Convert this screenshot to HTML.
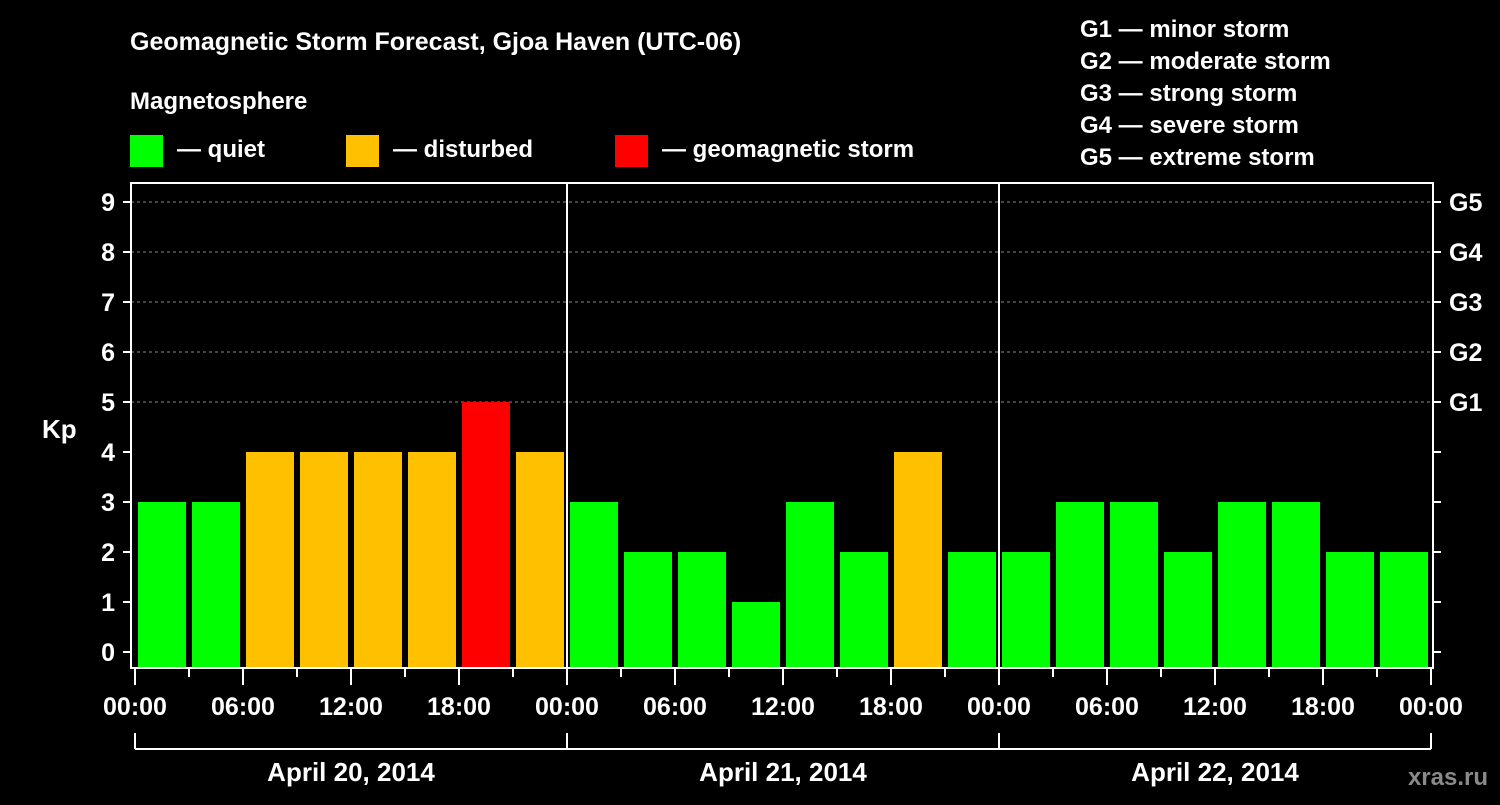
<!DOCTYPE html>
<html><head><meta charset="utf-8"><style>
body{margin:0;background:#000;}
text{font-family:"Liberation Sans",Arial,sans-serif;font-weight:bold;fill:#fff;}
</style></head><body>
<svg id="c" width="1500" height="800" xmlns="http://www.w3.org/2000/svg">
<rect width="1500" height="800" fill="#000"/>
<text x="130" y="50" font-size="25">Geomagnetic Storm Forecast, Gjoa Haven (UTC-06)</text>
<text x="130" y="109" font-size="24">Magnetosphere</text>
<g><rect x="130" y="135" width="33" height="32" fill="#00ff00"/><text x="177" y="157" font-size="24">— quiet</text></g>
<g><rect x="346" y="135" width="33" height="32" fill="#ffc000"/><text x="393" y="157" font-size="24">— disturbed</text></g>
<g><rect x="615" y="135" width="33" height="32" fill="#ff0000"/><text x="662" y="157" font-size="24">— geomagnetic storm</text></g>
<g font-size="24">
<text x="1080" y="37">G1 — minor storm</text>
<text x="1080" y="69">G2 — moderate storm</text>
<text x="1080" y="101">G3 — strong storm</text>
<text x="1080" y="133">G4 — severe storm</text>
<text x="1080" y="165">G5 — extreme storm</text>
</g>
<text x="42" y="438" font-size="26">Kp</text>
<text x="1488" y="785" font-size="24" text-anchor="end" fill="#888" style="fill:#8a8a8a">xras.ru</text>
<g id="plot"></g>
</svg>
<script>
const kpValues=[3,3,4,4,4,4,5,4, 3,2,2,1,3,2,4,2, 2,3,3,2,3,3,2,2];
const yTicks=[0,1,2,3,4,5,6,7,8,9];
const gLabels=["G1","G2","G3","G4","G5"];
const xTickLabels=["00:00","06:00","12:00","18:00"];
const dayLabels=["April 20, 2014","April 21, 2014","April 22, 2014"];
const NS="http://www.w3.org/2000/svg";
const g=document.getElementById('plot');
const X0=135,STEP=54,L=131,R=1433,T=183,B=668;
const x=i=>X0+i*STEP;
const y=v=>652-v*50;
function mk(t,a,p){const e=document.createElementNS(NS,t);for(const k in a)e.setAttribute(k,a[k]);(p||g).appendChild(e);return e;}
yTicks.forEach(v=>{
  if(v>=5){const l=mk('line',{x1:L,x2:R,y1:y(v),y2:y(v),stroke:'#888','stroke-dasharray':'3,3','stroke-width':1});
  
  }
  mk('line',{x1:123,x2:L,y1:y(v),y2:y(v),stroke:'#fff','stroke-width':2});
  mk('line',{x1:R,x2:1441,y1:y(v),y2:y(v),stroke:'#fff','stroke-width':2});
  const t=mk('text',{x:115,y:y(v)+9,'font-size':25,'text-anchor':'end'});t.textContent=v;
  
  
});
gLabels.forEach((s,i)=>{const t=mk('text',{x:1449,y:y(5+i)+9,'font-size':25});t.textContent=s;
  
  });
kpValues.forEach((v,i)=>{
  const c=v>=5?'#ff0000':v>=4?'#ffc000':'#00ff00';
  const r=mk('rect',{x:x(i)+3,y:y(v),width:48,height:B-y(v),fill:c});
  
  
});
[1,2].forEach(d=>mk('line',{x1:x(d*8),x2:x(d*8),y1:T,y2:B,stroke:'#fff','stroke-width':2}));
const f=mk('rect',{x:L,y:T,width:R-L,height:B-T,fill:'none',stroke:'#fff','stroke-width':2});


for(let i=0;i<=24;i++){
  const major=i%2==0;
  mk('line',{x1:x(i),x2:x(i),y1:B,y2:major?685:677,stroke:'#fff','stroke-width':2});
  if(major){const t=mk('text',{x:x(i),y:715,'font-size':25,'text-anchor':'middle'});t.textContent=xTickLabels[(i/2)%4];
  
  }
}
mk('line',{x1:x(0),x2:x(24),y1:749,y2:749,stroke:'#fff','stroke-width':2});
for(let d=0;d<=3;d++)mk('line',{x1:x(d*8),x2:x(d*8),y1:733,y2:749,stroke:'#fff','stroke-width':2});
dayLabels.forEach((s,d)=>{const t=mk('text',{x:x(d*8+4),y:781,'font-size':26,'text-anchor':'middle'});t.textContent=s;
  
  });
</script>
</body></html>
